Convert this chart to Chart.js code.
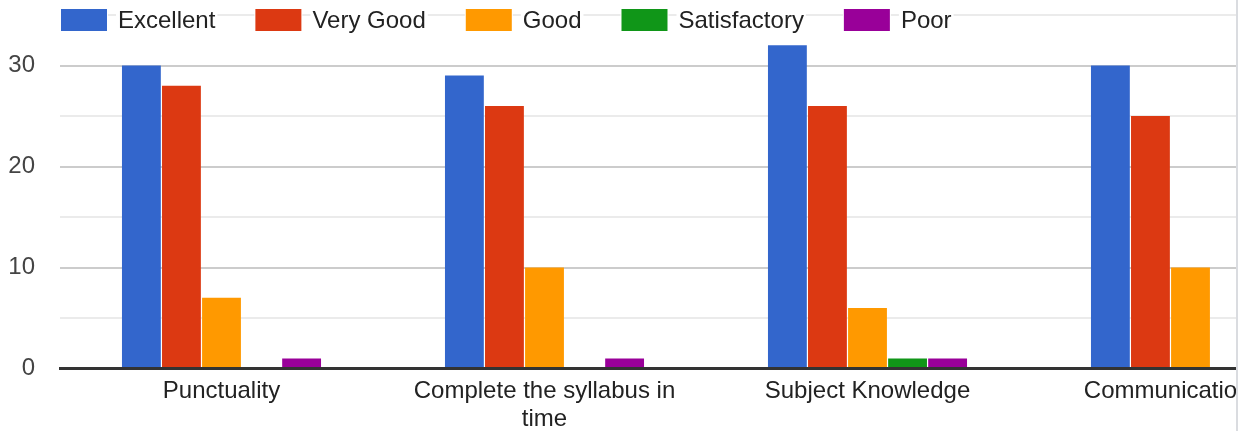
<!DOCTYPE html>
<html lang="en">
<head>
  <meta charset="UTF-8">
  <title>Feedback chart</title>
  <script src="https://cdn.jsdelivr.net/npm/chart.js"></script>
  <style>
    html, body { margin: 0; background: #fff; }
    .clip { width: 1236px; height: 431px; overflow: hidden; border-right: 2px solid #dadce0; }
    .box { position: relative; width: 1352px; height: 431px; }
  </style>
</head>
<body>
  <div class="clip">
    <div class="box"><canvas id="mychart"></canvas></div>
  </div>
  <script>
    // chart data
    const categories = ['Punctuality', ['Complete the syllabus in', 'time'], 'Subject Knowledge', 'Communication skill'];
    const ratings = ['Excellent', 'Very Good', 'Good', 'Satisfactory', 'Poor'];
    const excellent = [30, 29, 32, 30];
    const veryGood = [28, 26, 26, 25];
    const good = [7, 10, 6, 10];
    const satisfactory = [0, 0, 1, 0];
    const poor = [1, 1, 1, 1];
    const yTickLabels = [0, 10, 20, 30];

    const series = [excellent, veryGood, good, satisfactory, poor];
    const colors = ['#3366cc', '#dc3912', '#ff9900', '#109618', '#990099'];
    const font = 'Arial, "Liberation Sans", sans-serif';

    // legend drawn over the top gridline, with white behind boxes and text
    const topLegend = {
      id: 'topLegend',
      beforeDatasetsDraw(chart) {
        const ctx = chart.ctx;
        ctx.save();
        ctx.font = '24px ' + font;
        ctx.textBaseline = 'middle';
        let x = 61;
        const y = 20;
        chart.data.datasets.forEach(ds => {
          const w = ctx.measureText(ds.label).width;
          ctx.fillStyle = '#fff';
          ctx.fillRect(x - 1, y - 13, 48, 26);
          ctx.fillRect(x + 55, y - 13, w + 4, 26);
          ctx.fillStyle = ds.backgroundColor;
          ctx.fillRect(x, y - 11, 46, 22);
          ctx.fillStyle = '#222';
          ctx.fillText(ds.label, x + 57, y + 1);
          x += 57 + w + 40;
        });
        ctx.restore();
      }
    };

    const ctx = document.getElementById('mychart').getContext('2d');
    new Chart(ctx, {
      type: 'bar',
      data: {
        labels: categories,
        datasets: ratings.map((r, i) => ({
          label: r,
          data: series[i],
          backgroundColor: colors[i],
          categoryPercentage: 0.62,
          barPercentage: 0.97
        }))
      },
      options: {
        responsive: true,
        maintainAspectRatio: false,
        animation: false,
        layout: { padding: { top: 15, left: 0, right: 0, bottom: 0 } },
        scales: {
          x: {
            grid: { display: false },
            border: { display: true, color: '#333', width: 3, z: 1 },
            ticks: {
              color: '#222',
              font: { size: 24, family: font },
              padding: 0,
              maxRotation: 0,
              autoSkip: false
            },
            afterFit: s => { s.height = 62.5; s.paddingLeft = 0; s.paddingRight = 0; }
          },
          y: {
            min: 0,
            max: 35,
            border: { display: false },
            grid: {
              drawTicks: false,
              lineWidth: 2,
              color: c => (c.tick && c.tick.value % 10 === 0) ? '#cccccc' : '#ebebeb'
            },
            ticks: {
              stepSize: 5,
              padding: 25,
              color: '#444',
              font: { size: 24, family: font },
              callback: v => yTickLabels.includes(v) ? v : ''
            },
            afterFit: s => { s.width = 60; s.paddingTop = 0; s.paddingBottom = 0; }
          }
        },
        plugins: {
          legend: { display: false },
          tooltip: { enabled: false }
        }
      },
      plugins: [topLegend]
    });
  </script>
</body>
</html>
